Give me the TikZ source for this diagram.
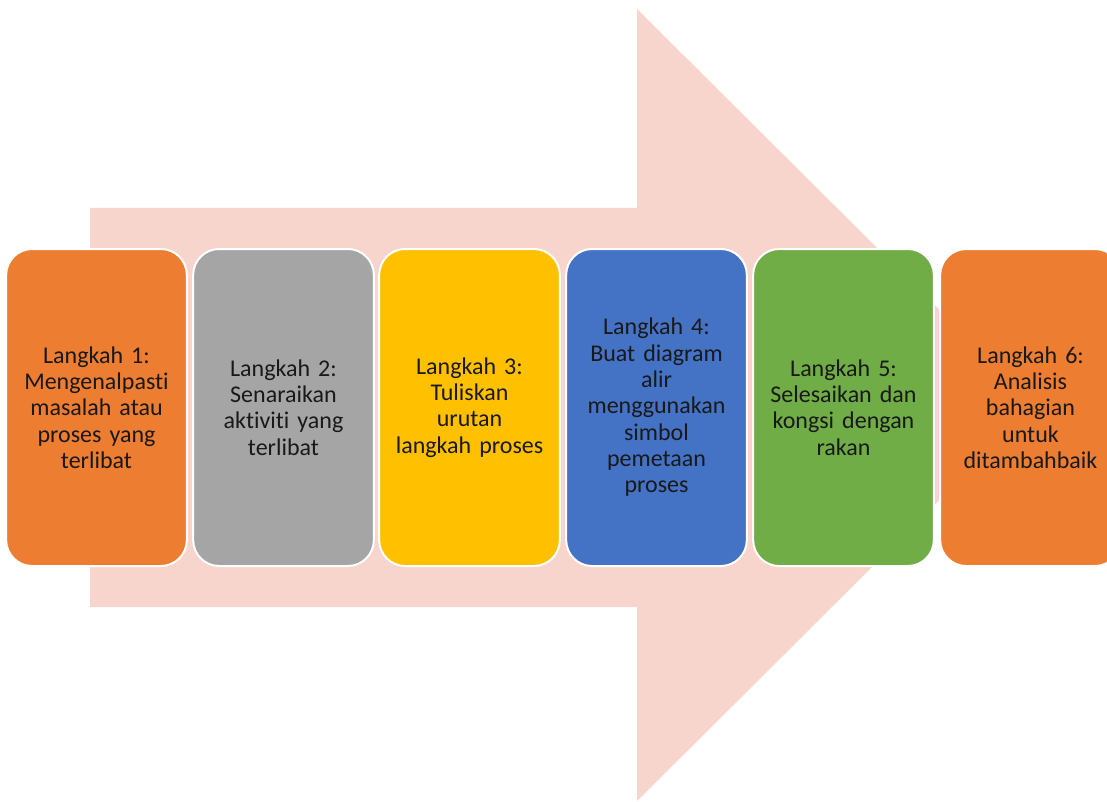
\documentclass[tikz,border=0pt]{standalone}
\usepackage{fontspec}
\setmainfont[Ligatures=NoCommon]{Carlito}
\definecolor{fleche}{HTML}{F7D5CC}
\definecolor{orangeE}{HTML}{ED7D31}
\definecolor{grisE}{HTML}{A5A5A5}
\definecolor{orE}{HTML}{FFC000}
\definecolor{bleuE}{HTML}{4472C4}
\definecolor{vertE}{HTML}{70AD47}
\tikzset{etape/.style={draw=white,line width=2pt,rounded corners=26pt,
		minimum width=177pt,minimum height=317pt,text width=174pt,align=center,
		font=\fontsize{24}{26.3}\selectfont,text=black!90}}
\begin{document}
\begin{tikzpicture}[x=1pt,y=-1pt]
		\useasboundingbox (0,0) rectangle (1107,802);
		\clip (0,0) rectangle (1107,802);
		%grande fleche
		\fill[fleche] (90,208)--(637,208)--(637,9)--(1035,405)--(637,801)--(637,607)--(90,607)--cycle;
		
		\foreach \i/\x/\c/\t in {1/96.5/orangeE/{Langkah 1:\\Mengenalpasti\\masalah atau\\proses yang\\terlibat},
			2/283.5/grisE/{Langkah 2:\\Senaraikan\\aktiviti yang\\terlibat},
			3/469.5/orE/{Langkah 3:\\Tuliskan\\urutan\\langkah proses},
			4/656.5/bleuE/{Langkah 4:\\Buat diagram\\alir\\menggunakan\\simbol\\pemetaan\\proses},
			5/843.5/vertE/{Langkah 5:\\Selesaikan dan\\kongsi dengan\\rakan},
			6/1030.5/orangeE/{Langkah 6:\\Analisis\\bahagian\\untuk\\ditambahbaik}}{
			\node[etape,fill=\c] (etape\i) at (\x,407.5) {\t}; }
		
	\end{tikzpicture}
\end{document}
